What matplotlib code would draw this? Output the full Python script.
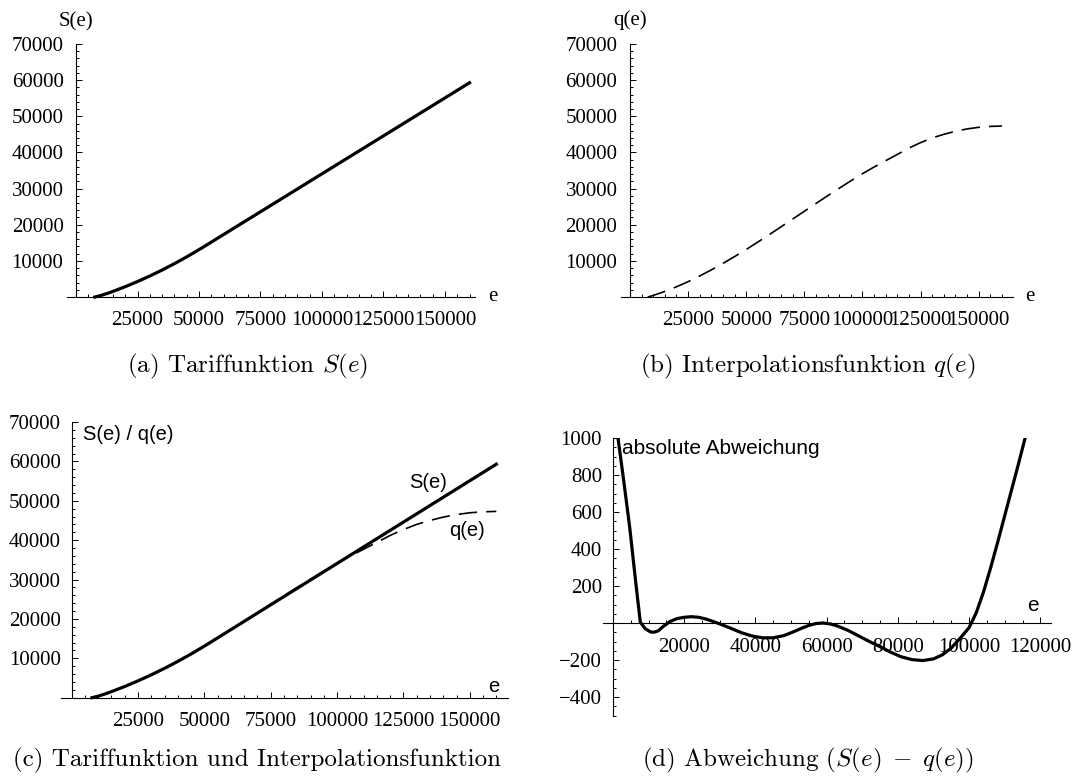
import matplotlib
matplotlib.use('Agg')
import matplotlib.pyplot as plt
from matplotlib.ticker import MultipleLocator, FuncFormatter

plt.rcParams['font.family'] = 'Liberation Serif'
plt.rcParams['mathtext.fontset'] = 'cm'

# Tariffunktion S(e)
e_S = [7664, 10000, 12739, 15000, 20000, 25000, 30000, 35000, 40000, 45000, 50000,
       52152, 60000, 80000, 100000, 120000, 140000, 160000]
S_vals = [0, 399, 989, 1543, 2850, 4272, 5808, 7458, 9223, 11103, 13096,
          13990, 17286, 25686, 34086, 42486, 50886, 59286]

# Interpolationsfunktion q(e)
e_q = [7664, 10000, 12739, 15000, 20000, 25000, 30000, 35000, 40000, 45000, 50000,
       55000, 60000, 65000, 70000, 75000, 80000, 85000, 90000, 95000, 100000,
       105000, 110000, 115000, 120000, 125000, 130000, 135000, 140000, 145000,
       150000, 155000, 160000]
q_vals = [0, 439, 1034, 1543, 2820, 4247, 5813, 7503, 9301, 11183, 13146,
          15198, 17286, 19421, 21571, 23714, 25866, 27988, 30081, 32124, 34101,
          35956, 37706, 39436, 41200, 42700, 44000, 45000, 45850, 46500,
          46950, 47200, 47300]

# Abweichung S(e) - q(e)
e_d = [0, 1400, 3000, 4700, 6500, 7664, 9000, 10500, 11500, 12739, 14000, 16000,
       18000, 20000, 22000, 24000, 26000, 28000, 30000, 33000, 36000, 39000,
       42000, 45000, 48000, 51000, 53000, 55000, 57000, 59000, 61000, 63000,
       66000, 69000, 72000, 75000, 78000, 81000, 84000, 87000, 90000, 92500,
       95000, 97500, 100000, 102000, 104000, 106000, 108000, 110000, 112000,
       114000, 116000, 118000]
d_vals = [1200, 1000, 770, 515, 200, 5, -30, -48, -50, -42, -20, 8,
          24, 31, 34, 31, 22, 9, -5, -28, -52, -70,
          -80, -80, -68, -45, -28, -13, -3, 0, -5, -16,
          -40, -70, -100, -128, -158, -183, -198, -203, -194, -172,
          -135, -82, -25, 55, 165, 295, 435, 580, 725,
          870, 1020, 1170]

W, H = 1074, 778
fig = plt.figure(figsize=(W / 100, H / 100), dpi=100)


def box(l, r, t, b):
    return [l / W, 1 - b / H, (r - l) / W, (b - t) / H]


def fmt(v, p):
    if abs(v) < 1e-9:
        return ''
    return ('%d' % v).replace('-', '\u2212')


def style(ax, xmaj, xmin, ymaj, ymin, xpad=10, ypad=9):
    ax.patch.set_visible(False)
    for s in ['top', 'right']:
        ax.spines[s].set_visible(False)
    ax.spines['left'].set_position(('data', 0))
    ax.spines['bottom'].set_position(('data', 0))
    for s in ['left', 'bottom']:
        ax.spines[s].set_linewidth(0.8)
    ax.xaxis.set_major_locator(MultipleLocator(xmaj))
    ax.xaxis.set_minor_locator(MultipleLocator(xmin))
    ax.yaxis.set_major_locator(MultipleLocator(ymaj))
    ax.yaxis.set_minor_locator(MultipleLocator(ymin))
    ax.xaxis.set_major_formatter(FuncFormatter(fmt))
    ax.yaxis.set_major_formatter(FuncFormatter(fmt))
    ax.tick_params(which='both', direction='in', width=0.7, labelsize=15)
    ax.tick_params(which='major', length=4)
    ax.tick_params(which='minor', length=2.2)
    ax.tick_params(axis='x', pad=xpad)
    ax.tick_params(axis='y', pad=ypad)


sans = 'Liberation Sans'

# (a)
ax1 = fig.add_axes(box(67, 475, 44, 297))
ax1.plot(e_S, S_vals, color='black', lw=2.3, clip_on=False)
ax1.set_xlim(-3660, 162200)
ax1.set_ylim(0, 70000)
style(ax1, 25000, 5000, 10000, 2000)
ax1.annotate('S(e)', xy=(0, 1), xycoords=('data', 'axes fraction'),
             xytext=(0, 16), textcoords='offset points', ha='center', va='center', fontsize=15)
ax1.annotate('e', xy=(1, 0), xycoords='axes fraction',
             xytext=(13, 0), textcoords='offset points', ha='center', va='center', fontsize=15)

# (b)
ax2 = fig.add_axes(box(621, 1013, 44, 297))
ax2.plot(e_q, q_vals, color='black', lw=1.2, dashes=(11, 5.5), clip_on=False)
ax2.set_xlim(-3870, 164800)
ax2.set_ylim(0, 70000)
style(ax2, 25000, 5000, 10000, 2000)
ax2.annotate('q(e)', xy=(0, 1), xycoords=('data', 'axes fraction'),
             xytext=(0, 17), textcoords='offset points', ha='center', va='center', fontsize=15)
ax2.annotate('e', xy=(1, 0), xycoords='axes fraction',
             xytext=(12, 0), textcoords='offset points', ha='center', va='center', fontsize=15)

# (c)
ax3 = fig.add_axes(box(61, 508, 422, 697.7))
ax3.plot(e_q, q_vals, color='black', lw=1.2, dashes=(11, 5.5), clip_on=False)
ax3.plot(e_S, S_vals, color='black', lw=2.3, clip_on=False)
ax3.set_xlim(-4020, 164400)
ax3.set_ylim(0, 70000)
style(ax3, 25000, 5000, 10000, 2000, ypad=8)
ax3.text(4250, 66700, 'S(e) / q(e)', family=sans, fontsize=14.5, ha='left', va='center')
ax3.text(134300, 54750, 'S(e)', family=sans, fontsize=14.5, ha='center', va='center')
ax3.text(148800, 42560, 'q(e)', family=sans, fontsize=14.5, ha='center', va='center')
ax3.text(159100, 2720, 'e', family=sans, fontsize=14.5, ha='center', va='center')

# (d)
ax4 = fig.add_axes(box(603, 1051, 438, 715.5))
ax4.plot(e_d, d_vals, color='black', lw=2.3)
ax4.set_xlim(-2810, 123000)
ax4.set_ylim(-500, 1000)
style(ax4, 20000, 5000, 200, 50, xpad=11, ypad=8)
ax4.text(2530, 945, 'absolute Abweichung', family=sans, fontsize=15, ha='left', va='center')
ax4.text(118000, 92, 'e', family=sans, fontsize=15, ha='center', va='center')

# captions
cap = dict(family='cmr10', fontsize=18, ha='center', va='center')
fig.text(247.5 / W, 1 - 366 / H, '(a) Tariffunktion $S(e)$', **cap)
fig.text(808 / W, 1 - 366 / H, '(b) Interpolationsfunktion $q(e)$', **cap)
fig.text(257 / W, 1 - 760 / H, '(c) Tariffunktion und Interpolationsfunktion', **cap)
fig.text(807.5 / W, 1 - 760 / H, r'(d) Abweichung $(S(e)\;-\;q(e))$', **cap)

fig.savefig('out.png', dpi=100)
